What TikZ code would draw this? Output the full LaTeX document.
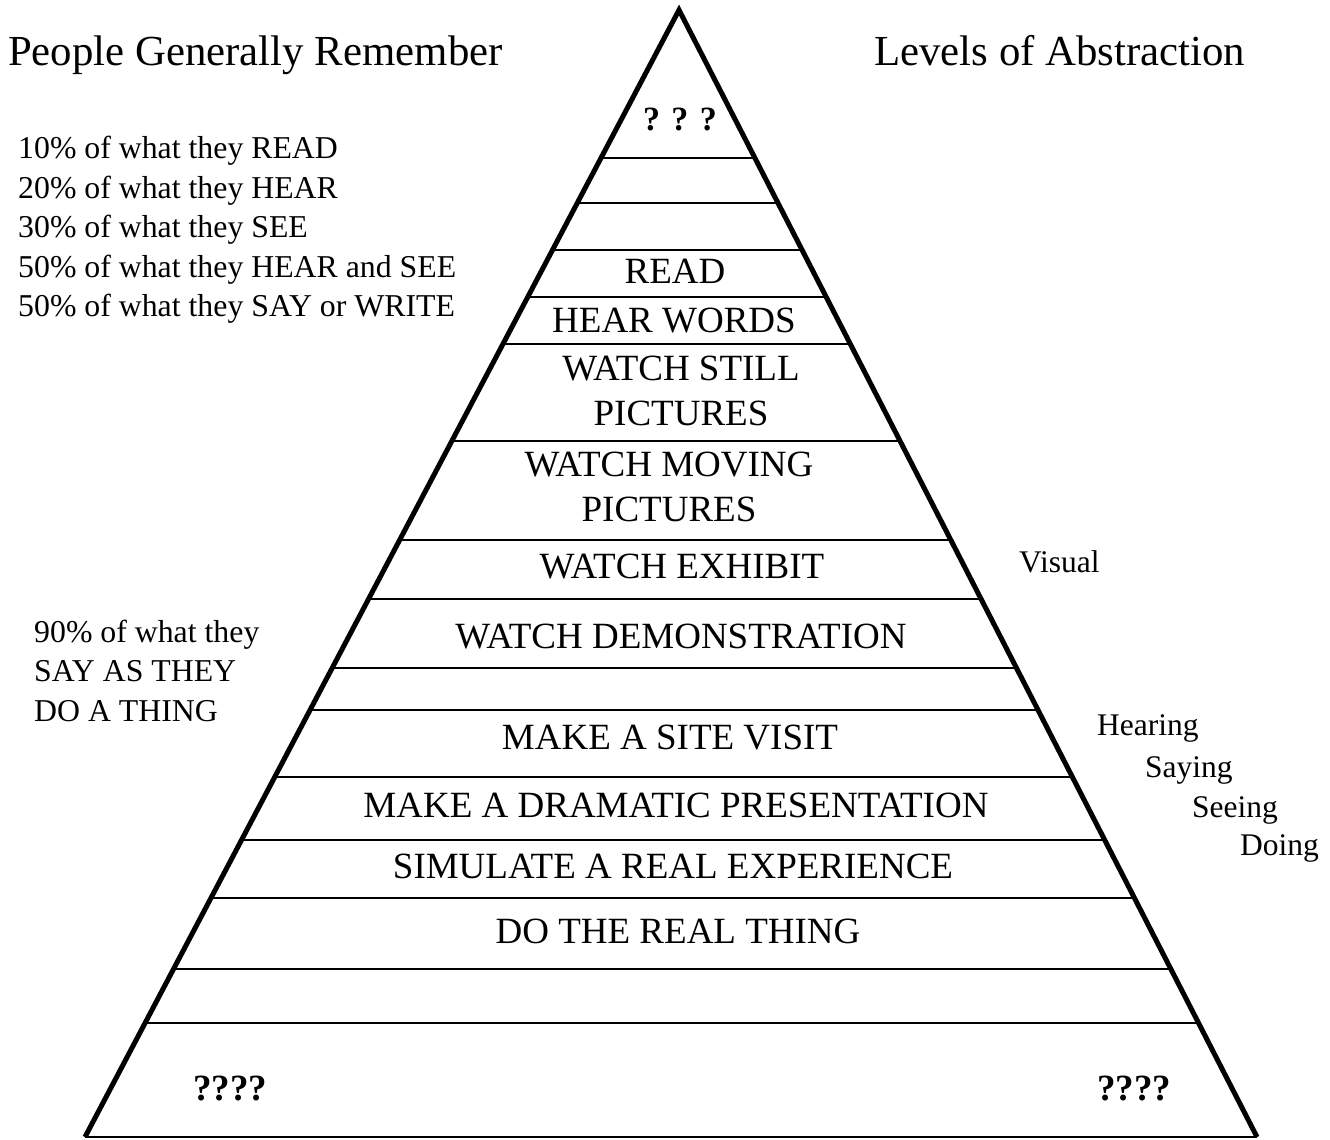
\documentclass[tikz,border=0pt]{standalone}
\usepackage{fontspec}
\setmainfont{Liberation Serif}
\usetikzlibrary{calc}
\begin{document}
\begin{tikzpicture}[x=1pt,y=-1pt,
  side/.style={line width=5pt,line join=miter},
  tier/.style={line width=2.6pt},
  baseline rule/.style={line width=2pt},
  heading/.style={font=\fontsize{42.8}{50}\selectfont,inner sep=0,anchor=base west},
  note/.style={font=\fontsize{31.8}{39.5}\selectfont,inner sep=0,anchor=base west,align=left},
  sense/.style={font=\fontsize{31.5}{36}\selectfont,inner sep=0,anchor=base west},
  level/.style={font=\fontsize{37}{45}\selectfont,inner sep=0,anchor=base,align=center},
  query/.style={font=\fontsize{34}{40}\selectfont\bfseries,inner sep=0,anchor=base},
  bigquery/.style={query,font=\fontsize{37}{40}\selectfont\bfseries}]
\useasboundingbox (0,0) rectangle (1330,1140);

% pyramid outline
\coordinate (apex) at (679,10);
\coordinate (bl) at (85,1137);
\coordinate (br) at (1257,1137);
\draw[baseline rule] (bl) -- (br);

% horizontal tiers
\foreach \y [count=\i] in {158,203,250,297,344,441,540,599,668,710,777,840,898,969,1023}{
  \pgfmathsetmacro\t{(\y-10)/1127}
  \coordinate (l\i) at ($(apex)!\t!(bl)$);
  \coordinate (r\i) at ($(apex)!\t!(br)$);
  \draw[tier] (l\i) -- (r\i);
}
\draw[side] (bl) -- (apex) -- (br);

% headings
\node[heading] (hl) at (8,66) {People Generally Remember};
\node[heading] (hr) at (874,66) {Levels of Abstraction};

% retention notes
\node[note] (n1) at (18,158) {10\% of what they READ};
\node[note] (n2) at (18,198) {20\% of what they HEAR};
\node[note] (n3) at (18,237) {30\% of what they SEE};
\node[note] (n4) at (18,277) {50\% of what they HEAR and SEE};
\node[note] (n5) at (18,316) {50\% of what they SAY or WRITE};
\node[note] (n6) at (34,721) {90\% of what they\\SAY AS THEY\\DO A THING};

% senses
\node[sense] (s0) at (1019,572) {Visual};
\node[sense] (s1) at (1097,735) {Hearing};
\node[sense] (s2) at (1145,777) {Saying};
\node[sense] (s3) at (1192,817) {Seeing};
\node[sense] (s4) at (1240,855) {Doing};

% tier labels
\node[query] (q0) at (680,130) {? ? ?};
\node[level] (t1) at (675,283) {READ};
\node[level] (t2) at (674,332) {HEAR WORDS};
\node[level] (t3) at (681,425) {WATCH STILL\\PICTURES};
\node[level] (t4) at (669,521) {WATCH MOVING\\PICTURES};
\node[level] (t5) at (682,578) {WATCH EXHIBIT};
\node[level] (t6) at (681,648) {WATCH DEMONSTRATION};
\node[level] (t7) at (670,749) {MAKE A SITE VISIT};
\node[level] (t8) at (676,817) {MAKE A DRAMATIC PRESENTATION};
\node[level] (t9) at (673,878) {SIMULATE A REAL EXPERIENCE};
\node[level] (t10) at (678,943) {DO THE REAL THING};
\node[bigquery] (q1) at (230,1100) {????};
\node[bigquery] (q2) at (1134,1100) {????};
\end{tikzpicture}
\end{document}
